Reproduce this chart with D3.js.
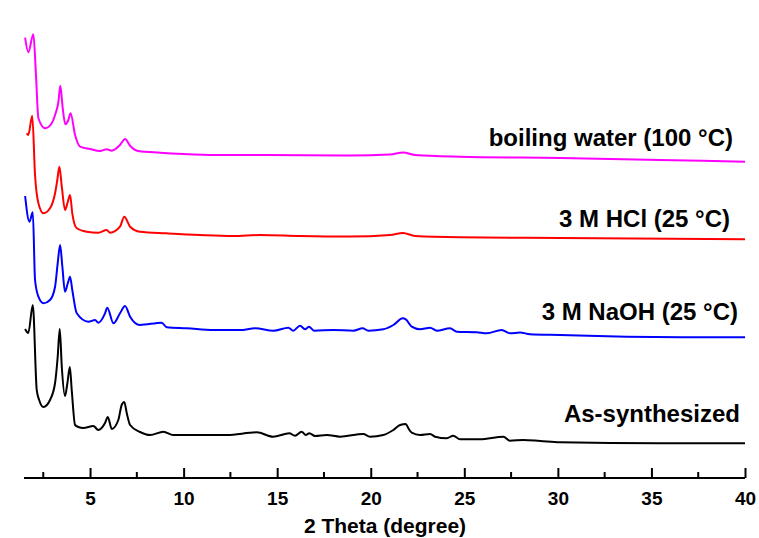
<!DOCTYPE html>
<html>
<head>
<meta charset="utf-8">
<script src="https://cdn.jsdelivr.net/npm/d3@7"></script>
<style>
  html, body { margin: 0; padding: 0; background: #fff; }
  svg { display: block; }
  text { font-family: "Liberation Sans", Arial, sans-serif; font-weight: bold; fill: #000; }
</style>
</head>
<body>
<svg id="chart" width="759" height="538"></svg>
<script>
// 2 Theta (degree) values and intensities (a.u., stacked with offsets as in the figure)
const asSynthesized = [
  [1.53,149],[1.70,145],[1.94,173],[2.15,88],[2.28,78],[2.51,71],[2.86,78],[3.13,95],[3.27,121],[3.38,149],
  [3.49,111],[3.66,82],[3.79,95],[3.92,111],[4.02,88],[4.20,53],[4.38,51],[4.64,50],[5.18,52],[5.44,48],
  [5.80,55],[5.95,61],[6.16,49],[6.51,58],[6.69,73],[6.83,76],[6.96,65],[7.14,53],[7.67,46],[8.21,43],
  [8.92,46.3],[9.44,43],[10.88,43],[12.31,43],[13.91,45.7],[14.78,41.3],[15.65,44.7],[15.95,42.3],[16.31,46.3],
  [16.53,43],[16.72,44.7],[17.02,42],[17.65,43],[18.36,41.3],[19.60,44],[19.96,41.3],[20.67,43],[21.21,48],
  [21.57,53],[21.87,54],[22.01,49.7],[22.19,45.3],[22.63,43],[23.17,44],[23.44,41.3],[24.06,39.7],[24.41,42.3],
  [24.77,38.7],[25.84,38.7],[27.09,41.3],[27.44,37.3],[28.15,38],[29.05,37],[30.12,35.7],[35.46,34.7],[40.0,34.7]
];
const naoh = [
  [1.53,282],[1.76,256.3],[1.94,265.7],[2.06,198],[2.24,181.3],[2.51,174.7],[2.86,178],[3.13,191.3],[3.27,214.7],
  [3.40,233],[3.52,211.3],[3.66,186.3],[3.81,194.7],[3.93,201.3],[4.05,188],[4.29,164.7],[4.91,156.3],[5.27,158],
  [5.44,155.3],[5.80,164.7],[5.92,170.3],[6.25,154.7],[6.60,164.7],[6.87,172],[7.14,161.3],[7.67,153],[8.83,155.3],
  [9.10,150.7],[10.17,149.7],[11.59,148],[13.02,148],[13.82,149.7],[14.80,147.3],[15.60,150.3],[15.86,147.3],
  [16.22,152.3],[16.49,148.7],[16.70,151.3],[16.97,147.3],[18.00,148],[19.07,147.3],[19.57,149.7],[19.87,147.3],
  [20.67,148.7],[21.21,153],[21.71,159.7],[21.87,158.7],[22.19,151.3],[22.63,148.7],[23.17,150.3],[23.53,147.3],
  [24.24,149.7],[24.60,146.3],[25.66,145.7],[26.20,144.7],[27.00,148],[27.44,144.7],[27.98,145.5],[28.51,143.7],
  [30.12,143],[33.68,141.3],[37.24,140.7],[40.0,140.7]
];
const hcl = [
  [1.62,344.7],[1.70,343],[1.91,362.3],[2.06,303],[2.24,274.7],[2.51,264.7],[2.86,269.7],[3.13,284.7],[3.25,298],
  [3.36,311.3],[3.49,291.3],[3.66,268],[3.79,274.7],[3.93,283],[4.05,264.7],[4.29,249.7],[4.82,246.3],[5.44,245.3],
  [5.89,248],[6.07,245.3],[6.60,251.3],[6.83,261.3],[7.14,251.3],[7.67,246.3],[9.10,244.7],[10.88,243],[12.66,242],
  [14.08,243],[16.22,242],[18.89,241.5],[21.03,243],[21.73,245],[22.37,242],[24.77,240.7],[30.12,240],[40.0,238.7]
];
const boilingWater = [
  [1.53,440.3],[1.70,425.7],[1.97,443.7],[2.11,403],[2.24,359.7],[2.60,349.7],[2.95,354.7],[3.13,363],[3.31,376.3],
  [3.41,392.3],[3.54,369.7],[3.68,353.7],[3.84,358],[3.96,364.7],[4.20,343],[4.47,331.3],[5.00,329],[5.53,327],
  [5.89,328.7],[6.16,327.3],[6.60,333],[6.87,339],[7.14,332.3],[7.58,327],[8.74,325.3],[9.99,324],[11.77,323],
  [14.08,323],[18.89,322.5],[21.03,323.5],[21.73,325.5],[22.37,323],[24.77,321.3],[30.12,320],[35.46,318],[40.0,316.3]
];
const seriesNames = ["As-synthesized", "3 M NaOH (25 °C)", "3 M HCl (25 °C)", "boiling water (100 °C)"];
const seriesColors = ["#000000", "#0000ff", "#ff0000", "#ff00ff"];
const seriesData = [asSynthesized, naoh, hcl, boilingWater];
const majorTicks = [5, 10, 15, 20, 25, 30, 35, 40];
const minorTicks = [2.5, 7.5, 12.5, 17.5, 22.5, 27.5, 32.5, 37.5];
const xTitle = "2 Theta (degree)";

const svg = d3.select("#chart");
const x = d3.scaleLinear().domain([1.47, 40]).range([24, 745]);
const y = d3.scaleLinear().domain([0, 460]).range([478, 18]);

const line = d3.line().x(d => x(d[0])).y(d => y(d[1])).curve(d3.curveMonotoneX);

seriesData.forEach((s, i) => {
  svg.append("path")
    .datum(s)
    .attr("d", line)
    .attr("fill", "none")
    .attr("stroke", seriesColors[i])
    .attr("stroke-width", 2)
    .attr("stroke-linejoin", "round");
});

// labels
const labelPos = [[740, 421.5], [738, 319.5], [730, 226.5], [733, 146]];
seriesNames.forEach((n, i) => {
  svg.append("text")
    .attr("x", labelPos[i][0]).attr("y", labelPos[i][1])
    .attr("text-anchor", "end")
    .attr("font-size", 24)
    .text(n);
});

// x axis
const axisG = svg.append("g").attr("transform", "translate(0,478)");
axisG.call(d3.axisBottom(x).tickValues(majorTicks).tickSize(-10).tickFormat(d3.format("d")).tickPadding(14))
  .call(g => g.select(".domain").attr("stroke", "#000").attr("stroke-width", 2).attr("d", `M${x.range()[0]},0H${x.range()[1]}`))
  .call(g => g.selectAll(".tick line").attr("stroke", "#000").attr("stroke-width", 2))
  .call(g => g.selectAll(".tick text").attr("font-size", 19).attr("font-family", "Liberation Sans, Arial, sans-serif").attr("font-weight", "bold").attr("fill", "#000"));
axisG.append("g").selectAll("line").data(minorTicks).join("line")
  .attr("x1", d => x(d)).attr("x2", d => x(d)).attr("y1", 0).attr("y2", -6)
  .attr("stroke", "#000").attr("stroke-width", 2);

svg.append("text")
  .attr("x", 385).attr("y", 533)
  .attr("text-anchor", "middle")
  .attr("font-size", 21)
  .text(xTitle);
</script>
</body>
</html>
